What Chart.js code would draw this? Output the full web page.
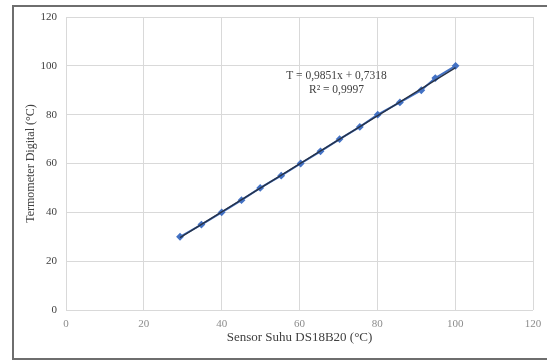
<!DOCTYPE html>
<html>
<head>
<meta charset="utf-8">
<script src="https://cdn.jsdelivr.net/npm/chart.js@4.4.1/dist/chart.umd.min.js"></script>
<style>
  body { margin: 0; background: #fff; }
  #wrap { width: 547px; height: 361px; }
</style>
</head>
<body>
<div id="wrap"><canvas id="chart" width="547" height="361"></canvas></div>
<script>
// sensor readings (x) vs digital thermometer (y)
const sensorX = [29.3, 34.8, 40.0, 45.1, 49.9, 55.3, 60.3, 65.4, 70.3, 75.5, 80.1, 85.8, 91.3, 94.9, 100.1];
const termoY = [30, 35, 40, 45, 50, 55, 60, 65, 70, 75, 80, 85, 90, 95, 100];

// linear trendline ends
const trendX = [29.3, 100.1];
const trendY = [29.6, 99.3];

const axisTicks = [0, 20, 40, 60, 80, 100, 120];
const eqLines = ['T = 0,9851x + 0,7318', 'R\u00b2 = 0,9997'];

const serif = "'Liberation Serif', 'Times New Roman', serif";

const frame = {
  id: 'frame',
  beforeDraw(c) {
    const ctx = c.ctx;
    ctx.save();
    ctx.fillStyle = '#fff';
    ctx.fillRect(0, 0, c.width, c.height);
    ctx.strokeStyle = '#6e6e6e';
    ctx.lineWidth = 2;
    ctx.strokeRect(13, 6, 545, 353);
    ctx.restore();
  }
};

const equation = {
  id: 'equation',
  afterDatasetsDraw(c) {
    const ctx = c.ctx;
    const x = c.scales.x.getPixelForValue(69.5);
    const y = c.scales.y.getPixelForValue(95.8);
    ctx.save();
    ctx.font = '11.5px ' + serif;
    ctx.fillStyle = '#404040';
    ctx.textAlign = 'center';
    ctx.textBaseline = 'middle';
    ctx.fillText(eqLines[0], x, y);
    ctx.fillText(eqLines[1], x, y + 14);
    ctx.restore();
  }
};

new Chart(document.getElementById('chart'), {
  type: 'scatter',
  data: {
    datasets: [{
      label: 'Trendline',
      data: trendX.map((x, i) => ({ x: x, y: trendY[i] })),
      showLine: true,
      borderColor: '#263248',
      borderWidth: 1.5,
      pointRadius: 0,
      order: 0
    }, {
      label: 'Data',
      data: sensorX.map((x, i) => ({ x: x, y: termoY[i] })),
      showLine: true,
      borderColor: '#4472c4',
      backgroundColor: '#4472c4',
      borderWidth: 2,
      pointStyle: 'rectRot',
      pointRadius: 2.5,
      order: 1
    }]
  },
  options: {
    responsive: false,
    animation: false,
    layout: { padding: { left: 0, top: 17, right: 14, bottom: 0 } },
    plugins: {
      legend: { display: false },
      tooltip: { enabled: false }
    },
    scales: {
      x: {
        min: 0, max: 120,
        afterBuildTicks: s => { s.ticks = axisTicks.map(v => ({ value: v })); },
        afterFit: s => { s.height = 51; s.paddingLeft = 0; s.paddingRight = 0; },
        grid: { color: '#d9d9d9', drawTicks: false },
        border: { display: false },
        ticks: { padding: 8, color: '#8c8c8c', font: { family: serif, size: 11 } },
        title: {
          display: true, text: 'Sensor Suhu DS18B20 (\u00b0C)',
          color: '#404040', font: { family: serif, size: 13 },
          padding: { top: 0, bottom: 16 }
        }
      },
      y: {
        min: 0, max: 120,
        afterBuildTicks: s => { s.ticks = axisTicks.map(v => ({ value: v })); },
        afterFit: s => { s.width = 66; s.paddingTop = 0; s.paddingBottom = 0; },
        grid: { color: '#d9d9d9', drawTicks: false },
        border: { display: false },
        ticks: { padding: 9, color: '#404040', font: { family: serif, size: 11 } },
        title: {
          display: true, text: 'Termometer Digital (\u00b0C)',
          color: '#404040', font: { family: serif, size: 12 },
          padding: { top: 24, bottom: 0 }
        }
      }
    }
  },
  plugins: [frame, equation]
});
</script>
</body>
</html>
